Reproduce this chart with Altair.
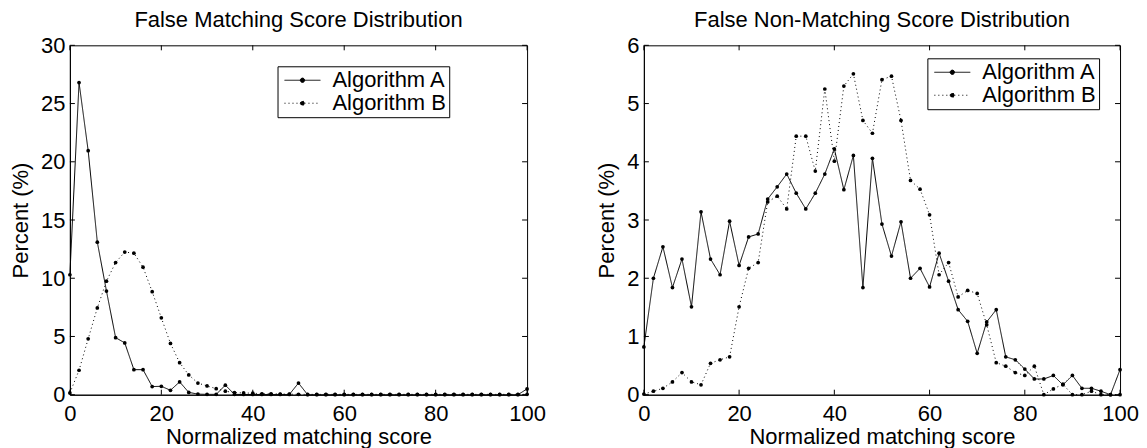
import altair as alt
import pandas as pd

# ---------------- data ----------------
scores = [0, 2, 4, 6, 8, 10, 12, 14, 16, 18, 20, 22, 24, 26, 28, 30, 32, 34, 36, 38,
          40, 42, 44, 46, 48, 50, 52, 54, 56, 58, 60, 62, 64, 66, 68, 70, 72, 74, 76, 78,
          80, 82, 84, 86, 88, 90, 92, 94, 96, 98, 100]

series_names = ["Algorithm A", "Algorithm B"]

# False Matching Score Distribution
fm_a = [10.3, 26.8, 20.95, 13.1, 8.9, 4.9, 4.45, 2.15, 2.15, 0.7,
        0.72, 0.38, 1.1, 0.2, 0.05, 0.03, 0.03, 0.82, 0.03, 0.02,
        0.02, 0.02, 0.02, 0.02, 0.02, 1.0, 0.0, 0.0, 0.0, 0.0,
        0.0, 0.0, 0.0, 0.0, 0.0, 0.0, 0.0, 0.0, 0.0, 0.0,
        0.0, 0.0, 0.0, 0.0, 0.0, 0.0, 0.0, 0.0, 0.0, 0.0,
        0.5]
fm_b = [0.15, 2.1, 4.8, 7.45, 9.75, 11.35, 12.25, 12.15, 10.95, 8.85,
        6.6, 4.4, 2.75, 1.7, 1.0, 0.75, 0.52, 0.3, 0.18, 0.15,
        0.13, 0.08, 0.08, 0.06, 0.05, 0.03, 0.03, 0.03, 0.03, 0.03,
        0.03, 0.03, 0.03, 0.03, 0.03, 0.03, 0.03, 0.03, 0.03, 0.03,
        0.03, 0.03, 0.03, 0.03, 0.03, 0.03, 0.03, 0.03, 0.03, 0.03,
        0.03]

# False Non-Matching Score Distribution
fnm_a = [0.82, 2.0, 2.54, 1.84, 2.33, 1.51, 3.14, 2.33, 2.06, 2.98,
         2.22, 2.71, 2.76, 3.36, 3.57, 3.79, 3.46, 3.19, 3.46, 3.79,
         4.22, 3.52, 4.11, 1.84, 4.06, 2.93, 2.38, 2.97, 2.0, 2.17,
         1.85, 2.43, 1.95, 1.46, 1.26, 0.71, 1.25, 1.46, 0.65, 0.6,
         0.44, 0.27, 0.27, 0.33, 0.17, 0.33, 0.11, 0.11, 0.06, 0.0,
         0.43]
fnm_b = [0.01, 0.06, 0.11, 0.22, 0.38, 0.22, 0.17, 0.54, 0.6, 0.65,
         1.51, 2.17, 2.27, 3.31, 3.41, 3.19, 4.44, 4.44, 3.84, 5.25,
         4.01, 5.3, 5.51, 4.71, 4.49, 5.41, 5.47, 4.71, 3.68, 3.53,
         3.09, 2.06, 2.27, 1.68, 1.79, 1.74, 1.2, 0.55, 0.49, 0.38,
         0.33, 0.49, 0.0, 0.1, 0.18, 0.0, 0.0, 0.06, 0.0, 0.0,
         0.0]

x_ticks = [0, 20, 40, 60, 80, 100]
fm_y_ticks = [0, 5, 10, 15, 20, 25, 30]
fnm_y_ticks = [0, 1, 2, 3, 4, 5, 6]

titles = ["False Matching Score Distribution", "False Non-Matching Score Distribution"]
x_title = "Normalized matching score"
y_title = "Percent (%)"

# ---------------- style ----------------
FONT = "Liberation Sans"
FS = 22
TICK = 5
LEGEND_PATH = ("M-2,0L2,0M-0.24,0A0.24,0.24,0,1,1,0.24,0"
               "A0.24,0.24,0,1,1,-0.24,0Z")


def panel(a_vals, b_vals, y_ticks, title, width, height, legend_x, legend_y):
    n = len(scores)
    df = pd.DataFrame({
        "score": scores + scores,
        "pct": a_vals + b_vals,
        "series": [series_names[0]] * n + [series_names[1]] * n,
    })
    y_lo, y_hi = y_ticks[0], y_ticks[-1]
    x_lo, x_hi = x_ticks[0], x_ticks[-1]

    x_enc = alt.X("score:Q", scale=alt.Scale(domain=[x_lo, x_hi], nice=False, zero=False),
                  axis=alt.Axis(values=x_ticks, title=x_title))
    y_enc = alt.Y("pct:Q", scale=alt.Scale(domain=[y_lo, y_hi], nice=False),
                  axis=alt.Axis(values=y_ticks, title=y_title))

    line = alt.Chart(df).mark_line(color="black", strokeWidth=1).encode(
        x=x_enc, y=y_enc,
        strokeDash=alt.StrokeDash(
            "series:N",
            scale=alt.Scale(domain=series_names, range=[[1, 0], [1, 3]]),
            legend=alt.Legend(
                title=None, orient="none", legendX=legend_x, legendY=legend_y,
                strokeColor="black", fillColor="white", padding=3,
                symbolType=LEGEND_PATH, symbolSize=324, symbolStrokeWidth=1,
                symbolStrokeColor="black", symbolFillColor="black",
                symbolOffset=11, labelOffset=19, rowPadding=1,
                labelFont=FONT, labelFontSize=FS, labelColor="black", labelLimit=0,
            ),
        ),
    )
    pts = alt.Chart(df).mark_point(filled=True, shape="circle", color="black",
                                   size=14, opacity=1).encode(x=x_enc, y=y_enc, detail="series:N")

    # inward tick marks on all four sides (MATLAB box style)
    xt = pd.DataFrame({"score": x_ticks})
    yt = pd.DataFrame({"pct": y_ticks})
    tick_bottom = alt.Chart(xt).mark_rule(color="black", strokeWidth=1).encode(
        x=x_enc, y=alt.value(height), y2=alt.value(height - TICK))
    tick_top = alt.Chart(xt).mark_rule(color="black", strokeWidth=1).encode(
        x=x_enc, y=alt.value(0), y2=alt.value(TICK))
    tick_left = alt.Chart(yt).mark_rule(color="black", strokeWidth=1).encode(
        y=y_enc, x=alt.value(0), x2=alt.value(TICK))
    tick_right = alt.Chart(yt).mark_rule(color="black", strokeWidth=1).encode(
        y=y_enc, x=alt.value(width), x2=alt.value(width - TICK))

    return alt.layer(tick_bottom, tick_top, tick_left, tick_right, line, pts).properties(
        width=width, height=height,
        title=alt.TitleParams(title, font=FONT, fontSize=FS, fontWeight="normal",
                              color="black", anchor="middle", offset=2),
    )


left = panel(fm_a, fm_b, fm_y_ticks, titles[0], 458, 350, 208, 21)
right = panel(fnm_a, fnm_b, fnm_y_ticks, titles[1], 477, 350, 284, 13)

chart = alt.hconcat(left, right, spacing=49).resolve_scale(
    x="independent", y="independent", strokeDash="independent"
).resolve_legend(strokeDash="independent").properties(
    padding={"left": 1, "top": 0, "right": 0, "bottom": 0}
).configure_view(stroke="black", strokeWidth=1).configure_axis(
    grid=False, ticks=False, tickSize=0, domainColor="black", domainWidth=1,
    labelFont=FONT, labelFontSize=FS, labelColor="black", labelFlush=False,
    labelOverlap=False, titleFont=FONT, titleFontSize=FS, titleFontWeight="normal",
    titleColor="black",
).configure_axisX(labelPadding=9, titlePadding=2).configure_axisY(
    labelPadding=5, titlePadding=8
)

chart.save("out.html", embed_options={"renderer": "svg", "actions": False})
